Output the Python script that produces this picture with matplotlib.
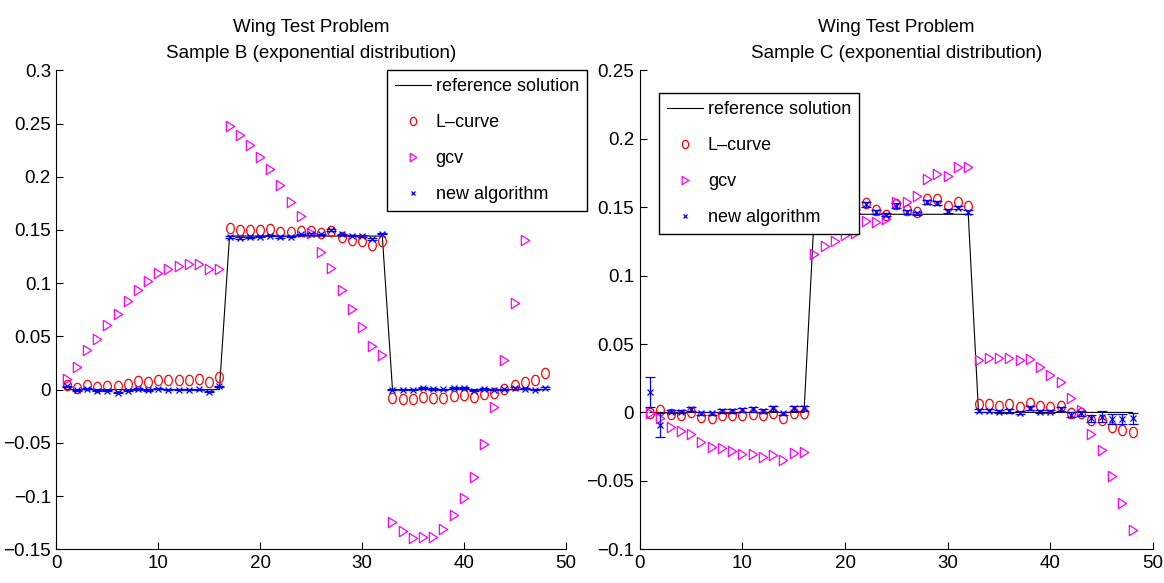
import numpy as np
import matplotlib
matplotlib.use("Agg")
import matplotlib.pyplot as plt

plt.rcParams['font.family'] = ['Liberation Sans', 'DejaVu Sans']
plt.rcParams['font.size'] = 13.5

# sample points 1..48
idx = np.arange(1, 49)

# ---- Sample B (left)
ref_b = [0, 0, 0, 0, 0, 0, 0, 0, 0, 0, 0, 0, 0, 0, 0, 0,
         0.1443, 0.1443, 0.1443, 0.1443, 0.1443, 0.1443, 0.1443, 0.1443,
         0.1443, 0.1443, 0.1443, 0.1443, 0.1443, 0.1443, 0.1443, 0.1443,
         0, 0, 0, 0, 0, 0, 0, 0, 0, 0, 0, 0, 0, 0, 0, 0]
lcurve_b = [0.0047, 0.002, 0.004, 0.0025, 0.0037, 0.003, 0.0056, 0.0078, 0.0072, 0.0094, 0.0087, 0.009,
            0.0094, 0.0097, 0.0075, 0.0116,
            0.152, 0.150, 0.150, 0.150, 0.151, 0.148, 0.148, 0.149, 0.149, 0.1475, 0.149, 0.143,
            0.141, 0.140, 0.1356, 0.140,
            -0.0075, -0.0084, -0.009, -0.0066, -0.008, -0.008, -0.006, -0.0053, -0.007, -0.0037, -0.003,
            0.0006, 0.0047, 0.0072, 0.0094, 0.0156]
gcv_b = [0.0103, 0.021, 0.0375, 0.048, 0.061, 0.071, 0.0837, 0.094, 0.1016, 0.110, 0.1134, 0.1166,
         0.118, 0.118, 0.1134, 0.1134,
         0.248, 0.239, 0.230, 0.219, 0.2075, 0.192, 0.1766, 0.163, 0.147, 0.129, 0.114, 0.094,
         0.0756, 0.059, 0.041, 0.033,
         -0.124, -0.133, -0.139, -0.138, -0.138, -0.131, -0.118, -0.102, -0.082, -0.051, -0.016,
         0.028, 0.081, 0.141, 0.205, 0.27]
newalg_b = [0.003, -0.0006, 0.001, -0.001, -0.001, -0.003, -0.001, 0.0006, -0.0006, 0.001, 0.0, 0.0,
            0.0, 0.0003, -0.002, 0.003,
            0.1434, 0.1425, 0.143, 0.1437, 0.1447, 0.1434, 0.1437, 0.146, 0.146, 0.146, 0.150, 0.146,
            0.1447, 0.1444, 0.1416, 0.1466,
            0.0, 0.0, 0.0, 0.002, 0.0006, 0.0003, 0.002, 0.002, -0.001, 0.0006, 0.0, 0.0003,
            0.0016, 0.001, -0.0003, 0.0016]
newerr_b = [0.0006, 0.0005, 0.0006, 0.0005, 0.0006, 0.0006, 0.0005, 0.0006, 0.0005, 0.0006, 0.0005, 0.0006,
            0.0005, 0.0006, 0.0006, 0.0007,
            0.0006, 0.0006, 0.0005, 0.0006, 0.0006, 0.0005, 0.0006, 0.0006, 0.0007, 0.0006, 0.0008, 0.0006,
            0.0006, 0.0006, 0.0007, 0.0007,
            0.0005, 0.0005, 0.0005, 0.0006, 0.0005, 0.0005, 0.0006, 0.0006, 0.0005, 0.0005, 0.0005, 0.0005,
            0.0006, 0.0006, 0.0005, 0.0006]

# ---- Sample C (right)
ref_c = [0, 0, 0, 0, 0, 0, 0, 0, 0, 0, 0, 0, 0, 0, 0, 0,
         0.1448, 0.1448, 0.1448, 0.1448, 0.1448, 0.1448, 0.1448, 0.1448,
         0.1448, 0.1448, 0.1448, 0.1448, 0.1448, 0.1448, 0.1448, 0.1448,
         0, 0, 0, 0, 0, 0, 0, 0, 0, 0, 0, 0, 0, 0, 0, 0]
lcurve_c = [-0.0002, 0.002, -0.0012, -0.0015, 0.0005, -0.003, -0.0037, -0.0015, -0.002, -0.0015, -0.0012,
            -0.0015, -0.0002, -0.0044, -0.0007, -0.0007,
            0.148, 0.147, 0.149, 0.146, 0.1465, 0.1527, 0.1476, 0.1446, 0.152, 0.1478, 0.1464, 0.156,
            0.156, 0.1507, 0.1537, 0.1512,
            0.0061, 0.0061, 0.0049, 0.0061, 0.0041, 0.0071, 0.0046, 0.0037, 0.0046, -0.0007, -0.0007,
            -0.0056, -0.0056, -0.0105, -0.0129, -0.0141]
gcv_c = [-0.0007, -0.0044, -0.0105, -0.0134, -0.016, -0.0215, -0.025, -0.026, -0.028, -0.030, -0.0305,
         -0.0325, -0.031, -0.0344, -0.0298, -0.0288,
         0.1157, 0.1215, 0.1252, 0.1293, 0.1313, 0.1398, 0.139, 0.141, 0.1537, 0.1537, 0.158, 0.1707,
         0.1743, 0.1726, 0.1797, 0.1797,
         0.0383, 0.0395, 0.0395, 0.040, 0.0383, 0.0388, 0.033, 0.0273, 0.0224, 0.0102, 0.002,
         -0.0154, -0.0276, -0.0466, -0.066, -0.086]
newalg_c = [0.0151, -0.0093, 0.0005, 0.0005, 0.0022, -0.0007, -0.0007, 0.0012, 0.001, 0.0017, 0.0022,
            0.0012, 0.0029, -0.0007, 0.0029, 0.0029,
            0.145, 0.146, 0.147, 0.146, 0.1471, 0.152, 0.1464, 0.1446, 0.1512, 0.1466, 0.1454, 0.1537,
            0.1532, 0.1471, 0.1495, 0.1464,
            0.0012, 0.0012, 0.0005, 0.001, -0.0002, 0.0034, 0.0005, 0.0005, 0.0022, -0.0015, -0.0007,
            -0.0044, -0.0032, -0.0051, -0.0051, -0.0044]
newerr_c = [0.011, 0.0088, 0.001, 0.001, 0.0015, 0.0012, 0.0012, 0.0015, 0.0012, 0.0015, 0.002, 0.0015,
            0.002, 0.0012, 0.002, 0.002,
            0.0015, 0.0015, 0.0015, 0.0015, 0.0015, 0.0018, 0.0015, 0.0012, 0.0015, 0.0015, 0.0012, 0.0015,
            0.0015, 0.0015, 0.0012, 0.0012,
            0.001, 0.001, 0.001, 0.0012, 0.001, 0.0015, 0.001, 0.001, 0.0015, 0.0015, 0.002,
            0.0028, 0.004, 0.0037, 0.0037, 0.0039]

labels = ['reference solution', 'L\u2013curve', 'gcv', 'new algorithm']

# the original is squeezed sideways, so circles/triangles are a bit narrow
t = np.linspace(0, 2 * np.pi, 40)
ell = list(zip(0.74 * np.cos(t), np.sin(t)))
tri = [(-0.8, 1.0), (0.8, 0.0), (-0.8, -1.0), (-0.8, 1.0)]


def panel(ax, ref, lc, gcv, na, err, title, ylim, legpos):
    ax.plot(idx, ref, '-', color='k', lw=0.8, label=labels[0])
    ax.plot(idx, lc, ls='none', marker=ell, ms=7.5, mfc='none', mec='r', mew=0.9, label=labels[1])
    ax.plot(idx, gcv, ls='none', marker=tri, ms=7.5, mfc='none', mec='#ff00ff', mew=0.9, label=labels[2])
    ax.errorbar(idx, na, yerr=err, fmt='none', ecolor='b', elinewidth=0.9, capsize=3.5, capthick=0.9)
    ax.plot(idx, na, ls='none', marker='x', ms=4, mec='b', mew=0.9, label=labels[3])
    ax.set_xlim(0, 50)
    ax.set_ylim(*ylim)
    ax.set_xticks([0, 10, 20, 30, 40, 50])
    ax.set_yticks(np.round(np.arange(ylim[0], ylim[1] + 1e-9, 0.05), 2))
    ax.yaxis.set_major_formatter(matplotlib.ticker.FuncFormatter(lambda v, p: ('%g' % v).replace('-', '\u2212')))
    ax.spines['top'].set_visible(False)
    ax.spines['right'].set_visible(False)
    ax.tick_params(direction='in', length=5, width=0.8, labelsize=13.5, pad=4)
    ax.set_title(title, fontsize=13.5, pad=9, linespacing=1.7)
    leg = ax.legend(loc='upper left', bbox_to_anchor=legpos, numpoints=1, fancybox=False,
                    edgecolor='k', framealpha=1, handlelength=1.97, handletextpad=0.28,
                    labelspacing=1.05, borderpad=0.45, borderaxespad=0, fontsize=13)
    leg.get_frame().set_linewidth(1.0)
    # legend symbols are drawn smaller than the data markers
    for h in leg.legend_handles[1:3]:
        h.set_markersize(6)
    leg.legend_handles[3].set_markersize(3.5)


fig = plt.figure(figsize=(11.64, 5.83), dpi=100)
ax1 = fig.add_axes([0.0485, 0.0578, 0.4374, 0.8216])
ax2 = fig.add_axes([0.5496, 0.0578, 0.4410, 0.8216])

panel(ax1, ref_b, lcurve_b, gcv_b, newalg_b, newerr_b,
      'Wing Test Problem\nSample B (exponential distribution)', (-0.15, 0.3), (0.649, 1.0))
panel(ax2, ref_c, lcurve_c, gcv_c, newalg_c, newerr_c,
      'Wing Test Problem\nSample C (exponential distribution)', (-0.1, 0.25), (0.0376, 0.953))

fig.savefig('out.png', dpi=100)
